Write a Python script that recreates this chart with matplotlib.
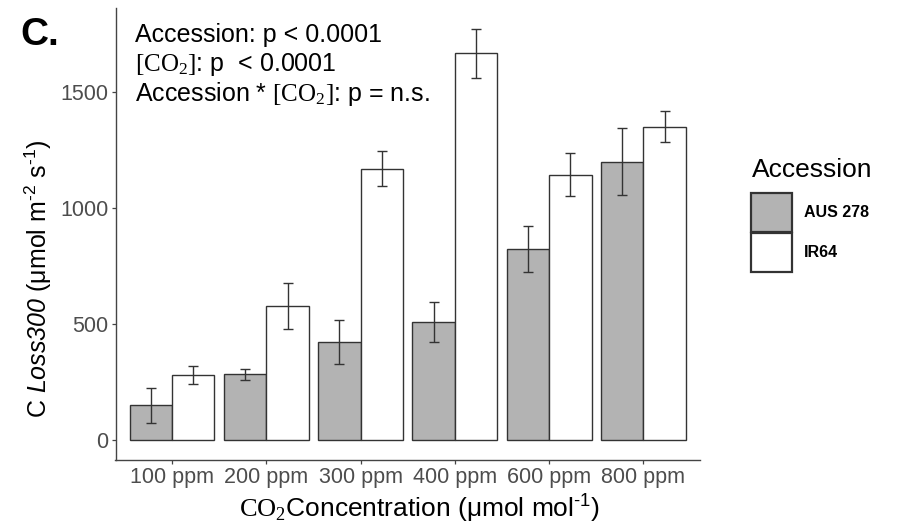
import matplotlib
matplotlib.use('Agg')
import matplotlib.pyplot as plt
import numpy as np
from matplotlib.patches import Rectangle

# ---------------- data ----------------
concentrations = ['100 ppm', '200 ppm', '300 ppm', '400 ppm', '600 ppm', '800 ppm']
accessions = ['AUS 278', 'IR64']
aus278_mean = [147, 281, 420, 506, 821, 1198]
aus278_se = [77, 23, 94, 85, 100, 144]
ir64_mean = [277, 576, 1168, 1664, 1142, 1349]
ir64_se = [38, 98, 75, 105, 92, 65]
y_ticks = [0, 500, 1000, 1500]
fill_colors = ['#B3B3B3', '#FFFFFF']
stats_lines = [
    'Accession: p < 0.0001',
    r'$\mathsf{[CO_2]}$: p  < 0.0001',
    r'Accession * $\mathsf{[CO_2]}$: p = n.s.',
]

# ---------------- style ----------------
plt.rcParams['font.family'] = ['Liberation Sans', 'DejaVu Sans']
plt.rcParams['mathtext.fontset'] = 'custom'
plt.rcParams['mathtext.rm'] = 'Liberation Sans'
plt.rcParams['mathtext.it'] = 'Liberation Sans:italic'
plt.rcParams['mathtext.bf'] = 'Liberation Sans:bold'
plt.rcParams['mathtext.cal'] = 'Liberation Sans:italic'
plt.rcParams['mathtext.sf'] = 'Liberation Serif'

W, H = 899, 529
fig = plt.figure(figsize=(W / 100, H / 100), dpi=100)


def fx(px):
    return px / W


def fy(py):
    return 1 - py / H


ax = fig.add_axes([fx(115.5), fy(460), (700 - 115.5) / W, (460 - 8) / H])

x = np.arange(len(concentrations))
w = 0.45
series = [(aus278_mean, aus278_se), (ir64_mean, ir64_se)]
for i, (means, ses) in enumerate(series):
    off = (i - 0.5) * w
    ax.bar(x + off, means, width=w, color=fill_colors[i], edgecolor='#333333',
           linewidth=1.0, zorder=2, label=accessions[i])
    ax.errorbar(x + off, means, yerr=ses, fmt='none', ecolor='#333333',
                elinewidth=1.0, capsize=3.3, capthick=1.0, zorder=3)

ax.set_xlim(-0.6, len(concentrations) - 0.4)
ax.set_ylim(-88, 1860)
ax.set_xticks(x)
ax.set_xticklabels(concentrations)
ax.set_yticks(y_ticks)
ax.set_yticklabels([str(t) for t in y_ticks])
for s in ['top', 'right']:
    ax.spines[s].set_visible(False)
for s in ['left', 'bottom']:
    ax.spines[s].set_color('#444444')
    ax.spines[s].set_linewidth(1.0)
ax.tick_params(axis='both', length=3, width=0.9, color='#444444',
               labelcolor='#4D4D4D', labelsize=15.5, pad=2)

# axis labels
fig.text(fx(420), fy(518),
         r'$\mathsf{CO_2}$Concentration (μmol mol$^{\text{-}1}$)',
         fontsize=19, ha='center', va='baseline', color='black')
fig.text(fx(38), fy(279),
         r'C $\mathcal{Loss300}$ (μmol m$^{\text{-}2}$ s$^{\text{-}1}$)',
         fontsize=18, ha='center', va='center', rotation=90, color='black')

# panel letter
fig.text(fx(20), fy(45), 'C.', fontsize=28, fontweight='bold', ha='left',
         va='baseline', color='black')

# statistics annotation
for line, base in zip(stats_lines, [42, 71, 101]):
    fig.text(fx(135), fy(base), line, fontsize=18, ha='left', va='baseline',
             color='black')

# legend
fig.text(fx(752), fy(177), 'Accession', fontsize=19, ha='left', va='baseline')
box_tops = [193, 233]
for i, name in enumerate(accessions):
    fig.add_artist(Rectangle((fx(751), fy(box_tops[i] + 39)), 41 / W, 39 / H,
                             transform=fig.transFigure, facecolor=fill_colors[i],
                             edgecolor='#333333', linewidth=1.6))
    fig.text(fx(804), fy(box_tops[i] + 19.5), name, fontsize=11.5,
             fontweight='bold', ha='left', va='center')

fig.savefig('out.png', dpi=100)
